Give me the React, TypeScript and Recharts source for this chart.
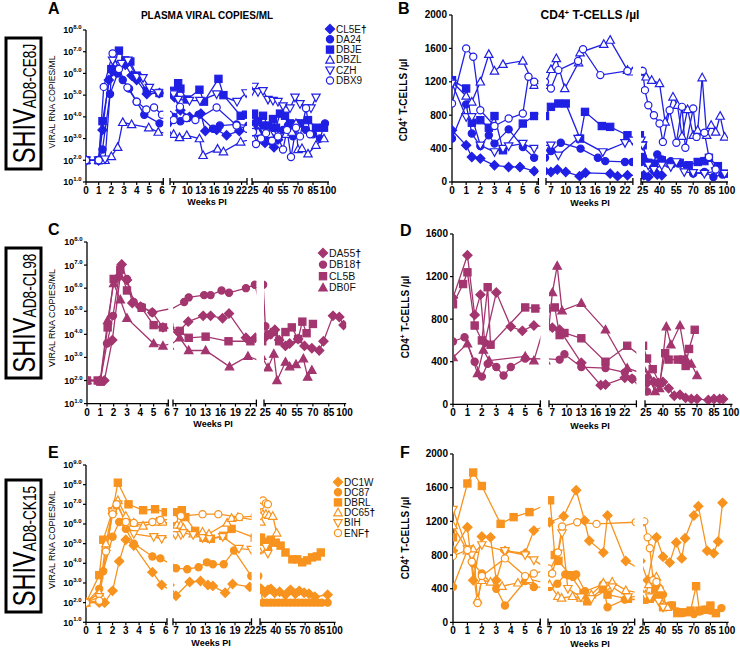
import React from 'react';
import { LineChart, Line, XAxis, YAxis } from 'recharts';

type Pt = [number, number];
type Shape = 'diamond' | 'circle' | 'square' | 'up' | 'down';

const FONT = '"Liberation Sans", Arial, Helvetica, sans-serif';
const BLUE = '#2020e4';
const PLUM = '#a3356f';
const ORANGE = '#f7931e';

// x-axis tick labels per axis segment (the x axis is broken twice)
const WEEKS_1 = [0, 1, 2, 3, 4, 5, 6];
const WEEKS_2 = [7, 10, 13, 16, 19, 22];
const WEEKS_3 = [25, 40, 55, 70, 85, 100];

// y ticks: log panels hold log10(copies/ml), CD4 panels cells/µl
const LOG_TICKS_8 = [1, 2, 3, 4, 5, 6, 7, 8];
const LOG_TICKS_9 = [1, 2, 3, 4, 5, 6, 7, 8, 9];
const CD4_TICKS_2000 = [0, 400, 800, 1200, 1600, 2000];
const CD4_TICKS_1600 = [0, 400, 800, 1200, 1600];

// animals
const NAMES_A = ['CL5E', 'DA24', 'DBJE', 'DBZL', 'CZH', 'DBX9'];
const SHAPES_A: Shape[] = ['diamond', 'circle', 'square', 'up', 'down', 'circle'];
const OPEN_A = [false, false, false, true, true, true];
const DAGGER_A = [true, false, false, false, false, false];

const NAMES_C = ['DA55', 'DB18', 'CL5B', 'DB0F'];
const SHAPES_C: Shape[] = ['diamond', 'circle', 'square', 'up'];
const OPEN_C = [false, false, false, false];
const DAGGER_C = [true, true, false, false];

const NAMES_E = ['DC1W', 'DC87', 'DBRL', 'DC65', 'BIH', 'ENF'];
const SHAPES_E: Shape[] = ['diamond', 'circle', 'square', 'up', 'down', 'circle'];
const OPEN_E = [false, false, false, true, true, true];
const DAGGER_E = [false, false, false, true, false, true];

// ---- A: SHIV AD8-CE8J viral load, [week, log10 copies/ml]
const A_CL5E: Pt[] = [[0, 2], [1, 2], [1.3, 3.4], [1.8, 5.7], [2.1, 6.1], [2.5, 6.2], [3.1, 6.4], [3.6, 5.9], [4.0, 5.7], [4.8, 5.05], [5.8, 5.1], [7.2, 4.9], [8.5, 4.3], [10.5, 4.0], [13, 4.15], [14, 3.35], [16.5, 3.4], [18.7, 3.15], [21.5, 3.35], [25.5, 3.6], [30, 3.3], [33, 3.1], [37, 2.8], [42, 2.9], [46, 2.6], [50, 2.95]];
const A_DA24: Pt[] = [[0, 2], [1, 2], [1.3, 2.5], [1.9, 5.05], [2.5, 6.0], [2.9, 5.7], [3.4, 5.3], [4.0, 4.7], [4.6, 4.1], [5.8, 3.7], [7, 4.0], [8.5, 3.8], [10, 3.95], [12.5, 4.1], [15.7, 3.45], [17.2, 3.6], [20.9, 3.65], [23.5, 3.6], [26, 3.7], [30, 3.3], [35, 3.6], [40, 3.2], [45, 3.5], [50, 3.0], [55, 3.4], [60, 3.6], [65, 3.1], [70, 3.7], [78, 3.4], [85, 3.2], [92, 3.0], [97, 3.7]];
const A_DBJE: Pt[] = [[0, 2], [1, 2], [1.3, 3.8], [2.0, 6.2], [2.6, 7.05], [3.1, 6.6], [3.5, 6.55], [4.0, 5.9], [4.8, 5.2], [5.8, 5.1], [7, 5.2], [8, 5.55], [8.5, 5.3], [9.9, 4.8], [12.7, 5.25], [13.7, 4.7], [16.9, 5.75], [18, 5.0], [21.8, 4.05], [23, 4.1], [26, 4.15], [30, 3.8], [35, 4.05], [40, 3.6], [45, 3.9], [48, 3.5], [52, 4.15], [57, 4.05], [62, 3.7], [67, 3.65], [72, 3.7], [80, 3.85], [88, 3.5], [96, 3.5]];
const A_DBZL: Pt[] = [[0, 2], [1, 2], [1.5, 2.0], [2.0, 2.18], [2.5, 2.6], [2.9, 3.75], [3.6, 3.65], [4.95, 3.5], [5.7, 3.3], [7, 3.2], [8.3, 3.05], [9.9, 3.15], [12.7, 3.0], [13.5, 2.23], [16.7, 2.52], [18, 2.4], [21.8, 2.85], [25, 3.0], [30, 3.3], [36, 3.15], [42, 3.2], [50, 3.1], [58, 3.2], [64, 3.3], [68, 3.7], [70, 2.5], [74, 2.55], [80, 2.3], [88, 2.7], [96, 3.0]];
const A_CZH: Pt[] = [[0, 2], [1, 2], [1.5, 2.05], [2.1, 6.6], [2.8, 6.45], [3.3, 6.6], [4.0, 5.85], [4.5, 5.8], [5.0, 5.35], [5.7, 5.1], [7, 5.05], [8, 4.8], [10.5, 4.75], [12.8, 4.75], [16.5, 5.05], [21, 4.7], [23, 5.1], [26, 5.4], [30, 5.15], [35, 5.2], [40, 4.8], [45, 4.75], [50, 4.7], [55, 4.5], [62, 4.4], [67, 4.9], [72, 4.6], [78, 4.4], [83, 4.4], [88, 4.9]];
const A_DBX9: Pt[] = [[0, 2], [1, 2], [1.4, 5.38], [2.1, 6.92], [2.6, 6.2], [3.27, 5.35], [4.0, 4.7], [4.76, 4.34], [5.37, 4.43], [6, 4.1], [7, 3.85], [8.4, 4.46], [9.8, 3.95], [11.8, 3.85], [16.5, 4.43], [20.9, 3.6], [23.2, 3.45], [25, 3.3], [28, 2.75], [33, 3.0], [38, 3.25], [44, 2.9], [50, 3.1], [55, 2.5], [59, 3.4], [63, 2.15], [68, 3.5], [72, 3.1], [78, 4.4], [82, 3.2]];

// ---- B: SHIV AD8-CE8J CD4 T cells, [week, cells/µl]
const B_CL5E: Pt[] = [[0, 620], [1, 440], [1.4, 300], [2, 280], [3, 200], [4, 180], [4.8, 180], [5.8, 130], [7, 120], [8.3, 150], [10, 120], [12.8, 70], [14, 110], [19, 100], [20.5, 70], [22.5, 80], [26, 80], [30, 60], [35, 130], [38, 90], [42, 80]];
const B_DA24: Pt[] = [[0, 520], [1, 930], [1.4, 580], [2, 430], [2.6, 560], [3, 460], [4, 630], [5, 420], [5.8, 290], [7, 370], [9, 470], [13, 400], [16.5, 290], [18, 250], [22, 240], [23.5, 240], [25, 300], [28, 240], [33, 200], [38, 330], [42, 270], [50, 250], [57, 220], [64, 200], [70, 100], [80, 120], [88, 60], [96, 90]];
const B_DBJE: Pt[] = [[0, 1220], [1, 1120], [1.4, 710], [2, 740], [2.6, 650], [3, 790], [3.6, 380], [5, 700], [5.8, 790], [7, 900], [8.5, 940], [10, 940], [12.9, 520], [13.9, 840], [17.3, 670], [19, 660], [22.5, 560], [25, 440], [30, 230], [35, 220], [42, 260], [50, 220], [58, 230], [66, 200], [74, 240], [80, 250], [84, 290], [92, 190], [98, 100]];
const B_DBZL: Pt[] = [[0, 1200], [1, 1030], [1.4, 960], [2, 1200], [2.6, 1530], [3, 1330], [3.6, 1410], [5, 1450], [5.8, 1160], [7, 1350], [8.1, 1480], [9.8, 1120], [12.6, 1430], [12.9, 1550], [17.7, 1650], [19, 1700], [22.5, 1340], [23.5, 1320], [25, 1320], [28, 1260], [33, 1220], [40, 1180], [45, 720], [52, 1020], [56, 920], [60, 550], [65, 870], [70, 560], [74, 620], [78, 1250], [82, 560], [86, 680], [90, 600], [94, 790], [98, 540]];
const B_CZH: Pt[] = [[0, 1180], [1, 780], [1.4, 780], [2, 440], [3, 360], [3.6, 400], [4, 430], [5, 460], [5.8, 400], [7, 440], [8.5, 320], [12.5, 520], [17.5, 360], [22, 470], [23.5, 500], [25, 440], [30, 200], [35, 150], [42, 200], [50, 180], [55, 240], [62, 120], [70, 110], [80, 100], [90, 130], [98, 100]];
const B_DBX9: Pt[] = [[0, 940], [1, 1600], [1.5, 1500], [2, 860], [3, 670], [4, 760], [5, 820], [5.4, 1260], [5.8, 1200], [7, 1120], [8.5, 1340], [12.5, 1450], [13.5, 1590], [17, 1280], [22.5, 1330], [25, 1330], [27, 1100], [30, 920], [35, 800], [40, 700], [43, 480], [49, 860], [55, 470], [60, 900], [63, 410], [70, 880], [73, 540], [80, 590], [84, 300], [90, 150]];

// ---- C: SHIV AD8-CL98 viral load
const C_DA55: Pt[] = [[0, 2], [1, 2], [1.3, 2.0], [1.9, 3.75], [2.6, 7.03], [3.0, 6.35], [3.4, 5.36], [4.0, 5.2], [4.9, 4.95], [5.7, 4.3], [7.5, 4.1], [9.5, 4.55], [12.5, 4.8], [14, 4.8], [16.4, 4.7], [17.7, 4.9], [21.1, 3.85], [23, 3.85], [25.5, 3.9], [30, 4.0], [34, 4.2], [38, 3.75], [44, 3.5], [48, 3.6], [56, 3.8], [62, 3.5], [69, 3.4], [76, 3.3], [80, 3.7], [89, 4.8], [95, 4.75], [99, 4.4]];
const C_DB18: Pt[] = [[0, 2], [1, 2], [1.5, 3.6], [1.95, 4.8], [2.4, 6.5], [3.0, 6.4], [3.5, 5.4], [4.1, 5.2], [4.9, 4.95], [8.7, 5.4], [9.6, 5.6], [12.7, 5.7], [14, 5.7], [16.2, 5.9], [17.7, 5.8], [21.1, 6.0], [22.9, 6.15], [25, 4.35]];
const C_CL5B: Pt[] = [[0, 2], [0.8, 2], [1.0, 1.95], [1.55, 4.3], [2.0, 6.4], [2.5, 6.8], [3.0, 5.9], [4.1, 5.15], [5.0, 4.4], [5.7, 4.3], [7.8, 4.15], [9.6, 3.85], [13, 3.9], [17.6, 3.7], [22, 3.7], [28, 4.0], [33, 4.1], [38, 3.7], [44, 4.1], [50, 4.3], [56, 3.8], [60, 4.55], [64, 4.05], [70, 4.45]];
const C_DB0F: Pt[] = [[0, 2], [1, 2], [1.55, 4.6], [2.0, 6.2], [2.5, 5.5], [3.0, 4.7], [5.0, 3.6], [5.7, 3.5], [7.8, 3.85], [9.6, 3.3], [13, 3.3], [17.8, 2.6], [21.5, 3.05], [27.5, 2.55], [33, 3.15], [36, 2.0], [44, 2.8], [48, 2.6], [54, 2.7], [61, 2.95], [65, 2.15], [69, 2.45]];

// ---- D: SHIV AD8-CL98 CD4 T cells
const D_DA55: Pt[] = [[0, 1000], [1, 1400], [1.5, 840], [1.9, 1030], [2.2, 580], [3, 1050], [4, 730], [4.8, 690], [5.6, 740], [7, 720], [8.5, 700], [13, 390], [17, 180], [18, 185], [22, 250], [23.5, 240], [26, 200], [32, 210], [36, 200], [40, 210], [45, 150], [50, 80], [55, 90], [60, 60], [65, 50], [70, 50], [80, 40], [85, 50], [90, 50], [93, 50]];
const D_DB18: Pt[] = [[0, 590], [0.8, 630], [1.5, 400], [2, 260], [2.4, 380], [3, 350], [3.5, 270], [4, 350], [5, 430], [8.5, 420], [9.5, 470], [13, 350], [18, 340], [22, 300], [23.5, 240], [26, 120]];
const D_CL5B: Pt[] = [[0, 940], [0.7, 1130], [1, 1240], [1.5, 740], [2, 600], [2.4, 1100], [2.6, 560], [5, 910], [5.7, 900], [7.5, 910], [8.5, 650], [9.5, 670], [13, 620], [18, 400], [22.5, 550], [26, 430], [31, 330], [37, 200], [42, 480], [45, 420], [53, 420], [58, 420], [60, 360], [63, 520], [68, 700]];
const D_DB0F: Pt[] = [[0, 440], [1, 570], [1.7, 290], [2.1, 510], [2.5, 410], [5, 450], [5.6, 410], [7, 1050], [8, 1300], [9, 880], [13, 950], [18, 700], [22.5, 340], [27, 270], [33, 120], [37, 150], [43, 730], [47, 560], [55, 740], [60, 430], [65, 380], [70, 270]];

// ---- E: SHIV AD8-CK15 viral load
const E_DC1W: Pt[] = [[0, 2], [1, 2], [1.4, 2], [2.0, 2.6], [2.5, 4.1], [3.0, 5.2], [3.6, 4.9], [5.0, 3.55], [5.7, 2.9], [7, 2.35], [9.8, 3.05], [12, 3.1], [13.5, 2.9], [14.5, 2.85], [17, 2.5], [18.5, 2.95], [22, 2.8], [25, 2.7], [29, 2.5], [32, 2.65], [35, 2.7], [39, 2.5], [44, 2.55], [50, 2.4], [55, 2.65], [60, 2.45], [64, 2.6], [69, 2.5], [74, 2.45], [80, 2.3], [93, 2.4]];
const E_DC87: Pt[] = [[0, 2], [1, 2.7], [1.3, 3.6], [2.0, 5.35], [2.5, 6.1], [3.0, 5.75], [3.6, 5.0], [5.0, 4.35], [5.6, 4.25], [7, 3.75], [9.3, 3.7], [11.6, 3.8], [13.3, 4.05], [14.5, 3.95], [16.7, 3.95], [18.8, 4.65], [22.3, 3.35], [27, 2.0], [31, 2.0], [35, 2.0], [39, 2.0], [43, 2.0], [47, 2.0], [51, 2.0], [55, 2.0], [59, 2.0], [63, 2.0], [67, 2.0], [71, 2.0], [75, 2.0], [79, 2.0], [83, 2.0], [87, 2.0], [93, 2.0]];
const E_DBRL: Pt[] = [[0, 2], [1, 3.4], [1.3, 5.2], [2.0, 6.65], [2.4, 8.1], [3.2, 7.0], [4.3, 6.7], [5.2, 6.75], [6, 6.6], [7, 6.6], [8.2, 6.7], [8.9, 6.35], [10.9, 5.65], [12.6, 5.3], [14.1, 5.25], [16.6, 5.4], [18.3, 5.75], [23, 5.3], [25, 5.3], [28, 5.1], [32, 4.85], [35, 5.2], [40, 5.05], [45, 4.9], [50, 4.55], [57, 4.2], [62, 4.2], [67, 4.05], [72, 4.15], [77, 4.3], [82, 4.35], [86, 4.55]];
const E_DC65: Pt[] = [[0, 2], [1, 2.5], [1.5, 5.0], [2.0, 6.7], [2.4, 7.2], [3.0, 6.4], [3.6, 6.05], [4.3, 5.9], [5.3, 6.1], [5.8, 6.1], [7.2, 5.95], [8, 5.95], [8.5, 5.8], [10.5, 5.5], [12.4, 5.6], [13.7, 5.5], [17.4, 6.05], [18.3, 6.3], [19.6, 6.35], [25, 6.1], [27, 6.5], [30, 6.5], [33, 6.45], [37, 6.4], [41, 5.55]];
const E_BIH: Pt[] = [[0, 2], [1, 2.3], [1.5, 4.5], [2.0, 6.6], [2.4, 7.0], [3.0, 6.0], [3.6, 5.5], [5.1, 5.35], [5.7, 5.25], [6.9, 5.45], [8, 5.45], [8.5, 5.55], [10.5, 5.45], [12.4, 5.3], [13.8, 5.25], [16.5, 5.35], [19.8, 4.75], [22.3, 4.7], [25, 4.7], [27, 4.75], [30, 4.85], [32, 4.5]];
const E_ENF: Pt[] = [[0, 2], [1, 2.1], [1.5, 4.6], [2.0, 6.5], [2.3, 7.0], [3.0, 6.1], [3.6, 6.05], [5.0, 6.1], [5.6, 6.2], [6.6, 6.25], [8, 6.4], [12.4, 6.5], [15.6, 6.5], [19.9, 6.35], [23, 6.4], [25, 6.95], [27, 7.2], [30, 7.05], [32, 7.0]];

// ---- F: SHIV AD8-CK15 CD4 T cells
const F_DC1W: Pt[] = [[0, 850], [1, 1130], [1.4, 500], [2, 1020], [2.6, 1010], [3, 500], [3.6, 850], [5, 820], [5.6, 1090], [7, 1190], [9.7, 1260], [12.1, 1570], [13.7, 1210], [14.6, 970], [17.3, 830], [18.1, 1270], [21.6, 730], [28, 500], [36, 1010], [42, 780], [48, 710], [54, 950], [59, 760], [62, 1000], [70, 1270], [74, 1380], [82, 850], [88, 820], [92, 960], [96, 1420]];
const F_DC87: Pt[] = [[0, 420], [1, 860], [1.4, 700], [2, 580], [3, 400], [3.6, 200], [5, 490], [5.6, 420], [7, 420], [8.5, 460], [10, 570], [11.5, 540], [12.1, 570], [13.8, 370], [17.2, 450], [18.1, 180], [21.4, 270], [25, 270], [30, 280], [36, 300], [39, 400], [42, 330], [45, 190], [50, 200], [55, 130], [60, 110], [65, 120], [70, 100], [75, 130], [80, 150], [85, 140], [90, 110], [95, 170]];
const F_DBRL: Pt[] = [[0, 1010], [1, 1650], [1.4, 1780], [2, 1620], [3.3, 1170], [4.2, 1250], [5.3, 1310], [7.1, 1450], [8, 800], [8.7, 730], [11, 560], [13.5, 340], [14.2, 250], [17.2, 400], [18.1, 330], [22, 280], [25, 270], [30, 280], [35, 400], [38, 300], [42, 180], [50, 200], [55, 110], [60, 120], [67, 140], [72, 430], [75, 140], [80, 150], [85, 200], [90, 110]];
const F_DC65: Pt[] = [[0, 1150], [1, 850], [1.4, 870], [1.7, 270], [2, 500], [2.6, 480], [3.4, 430], [4.5, 470], [5.3, 510], [7, 450], [8.6, 310], [9.3, 290], [11.4, 310], [13, 290], [15, 330], [17.3, 470], [19, 480], [21.6, 380], [26, 330], [29, 450], [33, 510], [36, 540], [40, 400], [43, 200], [46, 180]];
const F_BIH: Pt[] = [[0, 1340], [1, 870], [1.3, 800], [2, 920], [3.6, 850], [5, 800], [5.6, 740], [6.9, 600], [8.6, 820], [9.4, 1060], [10.5, 400], [13, 300], [15, 280], [19, 420], [22, 300], [26, 320], [30, 300], [35, 470], [38, 250], [42, 180]];
const F_ENF: Pt[] = [[0, 790], [1, 860], [1.3, 720], [1.7, 230], [2, 550], [3.6, 760], [5, 550], [5.6, 580], [6.8, 640], [7.5, 580], [8.6, 830], [9.4, 1140], [12.3, 1190], [16, 1170], [23.5, 1190], [25, 1200], [28, 1010], [30, 880], [33, 500], [36, 480]];

const Y_W = 40;
const PAD = 12;
const M_TOP = 8;
const X_H = 24;

interface Seg { from: number; to: number; left: number; right: number; ticks: number[] }
interface Series { name: string; shape: Shape; open: boolean; data: Pt[] }

function Marker({ cx, cy, shape, open, color }: { cx?: number; cy?: number; shape: Shape; open: boolean; color: string }) {
    if (cx == null || cy == null || isNaN(cx) || isNaN(cy)) return null;
    const fill = open ? '#fff' : color;
    const p = { fill, stroke: color, strokeWidth: 1.2 };
    switch (shape) {
        case 'diamond':
            return <polygon {...p} points={`${cx},${cy - 4.6} ${cx + 4.6},${cy} ${cx},${cy + 4.6} ${cx - 4.6},${cy}`} />;
        case 'square':
            return <rect {...p} x={cx - 3.6} y={cy - 3.6} width={7.2} height={7.2} />;
        case 'up':
            return <polygon {...p} points={`${cx},${cy - 4.4} ${cx + 4.2},${cy + 3.2} ${cx - 4.2},${cy + 3.2}`} />;
        case 'down':
            return <polygon {...p} points={`${cx},${cy + 4.4} ${cx + 4.2},${cy - 3.2} ${cx - 4.2},${cy - 3.2}`} />;
        default:
            return <circle {...p} cx={cx} cy={cy} r={3.6} />;
    }
}

// points of one segment, plus the neighbours so lines run into the axis break
function segData(data: Pt[], a: number, b: number) {
    const inside = (w: number) => w >= a && w <= b;
    return data
        .filter((p, i) => {
            if (inside(p[0])) return true;
            const prev = data[i - 1];
            const next = data[i + 1];
            if (next && (inside(next[0]) || (p[0] < a && next[0] > b))) return true;
            if (prev && (inside(prev[0]) || (p[0] > b && prev[0] < a))) return true;
            return false;
        })
        .map(([w, v]) => ({ w, v }));
}

const XTick = (props: any) => {
    const { x, y, payload, breaks } = props;
    const v = payload.value;
    if (breaks.includes(v)) {
        return <line x1={x} x2={x} y1={y - 4} y2={y + 3} stroke="#000" strokeWidth={1.3} />;
    }
    return (
        <g>
            <line x1={x} x2={x} y1={y} y2={y + 3} stroke="#000" strokeWidth={1.2} />
            <text x={x} y={y + 12} textAnchor="middle" fontSize={10} fontWeight="bold" fontFamily={FONT} fill="#000">
                {v}
            </text>
        </g>
    );
};

const YTick = (props: any) => {
    const { x, y, payload, log } = props;
    const v = payload.value;
    return (
        <g>
            <line x1={x - 3} x2={x} y1={y} y2={y} stroke="#000" strokeWidth={1.2} />
            {log ? (
                <text x={x - 4.5} y={y + 3.5} textAnchor="end" fontFamily={FONT} fontWeight="bold" fill="#000">
                    <tspan fontSize={9}>10</tspan>
                    <tspan fontSize={6} dy={-4.5}>{`${v}.0`}</tspan>
                </text>
            ) : (
                <text x={x - 5} y={y + 3.5} textAnchor="end" fontSize={10} fontWeight="bold" fontFamily={FONT} fill="#000">
                    {v}
                </text>
            )}
        </g>
    );
};

interface PanelProps {
    top: number;
    bottom: number;
    domain: [number, number];
    yTicks: number[];
    log: boolean;
    segs: Seg[];
    series: Series[];
    color: string;
}

function Panel({ top, bottom, domain, yTicks, log, segs, series, color }: PanelProps) {
    const plotH = bottom - top;
    return (
        <>
            {segs.map((s, i) => {
                const first = i === 0;
                const mL = first ? Y_W : PAD;
                const w = s.right - s.left + mL + PAD;
                const h = plotH + M_TOP + X_H;
                const breaks: number[] = [];
                if (i > 0) breaks.push(s.from);
                if (i < segs.length - 1) breaks.push(s.to);
                const ticks = [...breaks, ...s.ticks].sort((p, q) => p - q);
                return (
                    <div key={i} style={{ position: 'absolute', left: s.left - mL, top: top - M_TOP, width: w, height: h }}>
                        <LineChart width={w} height={h} margin={{ top: M_TOP, right: PAD, bottom: 0, left: first ? 0 : PAD }}>
                            <XAxis
                                type="number"
                                dataKey="w"
                                domain={[s.from, s.to]}
                                allowDataOverflow
                                ticks={ticks}
                                interval={0}
                                height={X_H}
                                tickSize={0}
                                tickMargin={0}
                                tickLine={false}
                                axisLine={{ stroke: '#000', strokeWidth: 1.3 }}
                                tick={(p: any) => <XTick {...p} breaks={breaks} />}
                            />
                            <YAxis
                                type="number"
                                domain={domain}
                                ticks={yTicks}
                                interval={0}
                                allowDataOverflow
                                hide={!first}
                                width={Y_W}
                                tickSize={0}
                                tickMargin={0}
                                tickLine={false}
                                axisLine={{ stroke: '#000', strokeWidth: 1.3 }}
                                tick={(p: any) => <YTick {...p} log={log} />}
                            />
                            {series.map((se) => (
                                <Line
                                    key={se.name}
                                    data={segData(se.data, s.from, s.to)}
                                    dataKey="v"
                                    type="linear"
                                    stroke={color}
                                    strokeWidth={1.3}
                                    isAnimationActive={false}
                                    activeDot={false}
                                    dot={(p: any) => (
                                        <Marker key={`${se.name}-${p.index}`} cx={p.cx} cy={p.cy} shape={se.shape} open={se.open} color={color} />
                                    )}
                                />
                            ))}
                        </LineChart>
                    </div>
                );
            })}
        </>
    );
}

function build(names: string[], shapes: Shape[], open: boolean[], data: Pt[][]): Series[] {
    return names.map((name, i) => ({ name, shape: shapes[i], open: open[i], data: data[i] }));
}

const SERIES_A = build(NAMES_A, SHAPES_A, OPEN_A, [A_CL5E, A_DA24, A_DBJE, A_DBZL, A_CZH, A_DBX9]);
const SERIES_B = build(NAMES_A, SHAPES_A, OPEN_A, [B_CL5E, B_DA24, B_DBJE, B_DBZL, B_CZH, B_DBX9]);
const SERIES_C = build(NAMES_C, SHAPES_C, OPEN_C, [C_DA55, C_DB18, C_CL5B, C_DB0F]);
const SERIES_D = build(NAMES_C, SHAPES_C, OPEN_C, [D_DA55, D_DB18, D_CL5B, D_DB0F]);
const SERIES_E = build(NAMES_E, SHAPES_E, OPEN_E, [E_DC1W, E_DC87, E_DBRL, E_DC65, E_BIH, E_ENF]);
const SERIES_F = build(NAMES_E, SHAPES_E, OPEN_E, [F_DC1W, F_DC87, F_DBRL, F_DC65, F_BIH, F_ENF]);

function segs(b: [number, number, number, number][]): Seg[] {
    const t = [WEEKS_1, WEEKS_2, WEEKS_3];
    return b.map(([from, to, left, right], i) => ({ from, to, left, right, ticks: t[i] }));
}

function Legend({ x, y, gap, size, names, shapes, open, daggers, color }: {
    x: number; y: number; gap: number; size: number; names: string[]; shapes: Shape[]; open: boolean[]; daggers: boolean[]; color: string;
}) {
    return (
        <g>
            {names.map((n, i) => (
                <g key={n}>
                    <Marker cx={x} cy={y + i * gap} shape={shapes[i]} open={open[i]} color={color} />
                    <text x={x + 6} y={y + i * gap + 3.5} fontSize={size} fontFamily={FONT} fill="#111">
                        {n}
                        {daggers[i] ? <tspan fill="#000" fontWeight="bold">†</tspan> : null}
                    </text>
                </g>
            ))}
        </g>
    );
}

function GroupBox({ top, bottom, sub }: { top: number; bottom: number; sub: string }) {
    const cy = (top + bottom) / 2;
    return (
        <g>
            <rect x={6} y={top} width={35} height={bottom - top} fill="#fff" stroke="#000" strokeWidth={3} />
            <text transform={`translate(35, ${cy}) rotate(-90) scale(0.76, 1)`} textAnchor="middle" fontFamily={FONT} fill="#000">
                <tspan fontSize={31}>SHIV</tspan>
                <tspan fontSize={18} dy={1}>{sub}</tspan>
            </text>
        </g>
    );
}

const VLabel = ({ x, y, size, bold, children }: { x: number; y: number; size: number; bold?: boolean; children: React.ReactNode }) => (
    <text transform={`translate(${x}, ${y}) rotate(-90)`} textAnchor="middle" fontSize={size} fontWeight={bold ? 'bold' : 'normal'} fontFamily={FONT} fill="#000">
        {children}
    </text>
);

const T = ({ x, y, size, children, anchor = 'middle' }: { x: number; y: number; size: number; children: React.ReactNode; anchor?: string }) => (
    <text x={x} y={y} textAnchor={anchor as any} fontSize={size} fontWeight="bold" fontFamily={FONT} fill="#000">
        {children}
    </text>
);

const CD4Label = () => (
    <>
        CD4<tspan fontSize="65%" dy={-4}>+</tspan>
        <tspan dy={4}> T-CELLS /µl</tspan>
    </>
);

export default function App() {
    return (
        <div style={{ position: 'absolute', left: 0, top: 0, width: 740, height: 650, background: '#fff', overflow: 'hidden', fontFamily: FONT }}>
            <Panel top={30} bottom={182} domain={[1, 8]} yTicks={LOG_TICKS_8} log color={BLUE} series={SERIES_A}
                segs={segs([[0, 6.1, 86, 163.3], [6.2, 23.2, 170.4, 247.4], [24, 101, 252, 329]])} />
            <Panel top={15} bottom={182} domain={[0, 2000]} yTicks={CD4_TICKS_2000} log={false} color={BLUE} series={SERIES_B}
                segs={segs([[0, 6.1, 452.3, 538.7], [6, 23.6, 546, 632.9], [23.5, 101, 641, 728]])} />
            <Panel top={241.7} bottom={403.3} domain={[1, 8]} yTicks={LOG_TICKS_8} log color={PLUM} series={SERIES_C}
                segs={segs([[0, 6.1, 86.7, 168], [6.45, 23.2, 173.3, 256.7], [23.7, 101.5, 264.3, 346.5]])} />
            <Panel top={234} bottom={404.3} domain={[0, 1600]} yTicks={CD4_TICKS_1600} log={false} color={PLUM} series={SERIES_D}
                segs={segs([[0, 6.05, 453.3, 540.7], [6.3, 24.4, 549.3, 636.7], [24.2, 101.3, 645, 732.5]])} />
            <Panel top={465} bottom={622.3} domain={[1, 9]} yTicks={LOG_TICKS_9} log color={ORANGE} series={SERIES_E}
                segs={segs([[0, 6.1, 86, 167], [6.4, 22.35, 172.7, 251.2], [24, 101, 260, 335.5]])} />
            <Panel top={454.3} bottom={622.7} domain={[0, 2000]} yTicks={CD4_TICKS_2000} log={false} color={ORANGE} series={SERIES_F}
                segs={segs([[0, 6.05, 452.7, 540], [6.7, 23.3, 548.3, 635], [23.8, 101.5, 642.7, 728.3]])} />

            <svg width={740} height={650} style={{ position: 'absolute', left: 0, top: 0, pointerEvents: 'none' }}>
                <GroupBox top={38} bottom={169} sub="AD8-CE8J" />
                <GroupBox top={248} bottom={378} sub="AD8-CL98" />
                <GroupBox top={480} bottom={612} sub="AD8-CK15" />

                <T x={48} y={14} size={16} anchor="start">A</T>
                <T x={398} y={14} size={16} anchor="start">B</T>
                <T x={48} y={235} size={16} anchor="start">C</T>
                <T x={400} y={236} size={16} anchor="start">D</T>
                <T x={48} y={458} size={16} anchor="start">E</T>
                <T x={400} y={458} size={16} anchor="start">F</T>

                <T x={207} y={19} size={10}>PLASMA VIRAL COPIES/ML</T>
                <T x={590} y={19} size={12}><CD4Label /></T>

                <VLabel x={55} y={102} size={8.5}>VIRAL RNA COPIES/ML</VLabel>
                <VLabel x={55} y={318} size={9}>VIRAL RNA COPIES/ML</VLabel>
                <VLabel x={55} y={540} size={9}>VIRAL RNA COPIES/ML</VLabel>
                <VLabel x={407} y={100} size={10} bold><CD4Label /></VLabel>
                <VLabel x={409} y={317} size={10} bold><CD4Label /></VLabel>
                <VLabel x={409} y={538} size={10} bold><CD4Label /></VLabel>

                <T x={207} y={205} size={9}>Weeks PI</T>
                <T x={590} y={206} size={9}>Weeks PI</T>
                <T x={213} y={427} size={9}>Weeks PI</T>
                <T x={590} y={429} size={9}>Weeks PI</T>
                <T x={211} y={646} size={9}>Weeks PI</T>
                <T x={590} y={647} size={9}>Weeks PI</T>

                <Legend x={330} y={29} gap={10.3} size={10} names={NAMES_A} shapes={SHAPES_A} open={OPEN_A} daggers={DAGGER_A} color={BLUE} />
                <Legend x={323} y={253} gap={11.6} size={10.5} names={NAMES_C} shapes={SHAPES_C} open={OPEN_C} daggers={DAGGER_C} color={PLUM} />
                <Legend x={338} y={482} gap={10.2} size={10} names={NAMES_E} shapes={SHAPES_E} open={OPEN_E} daggers={DAGGER_E} color={ORANGE} />
            </svg>
        </div>
    );
}
